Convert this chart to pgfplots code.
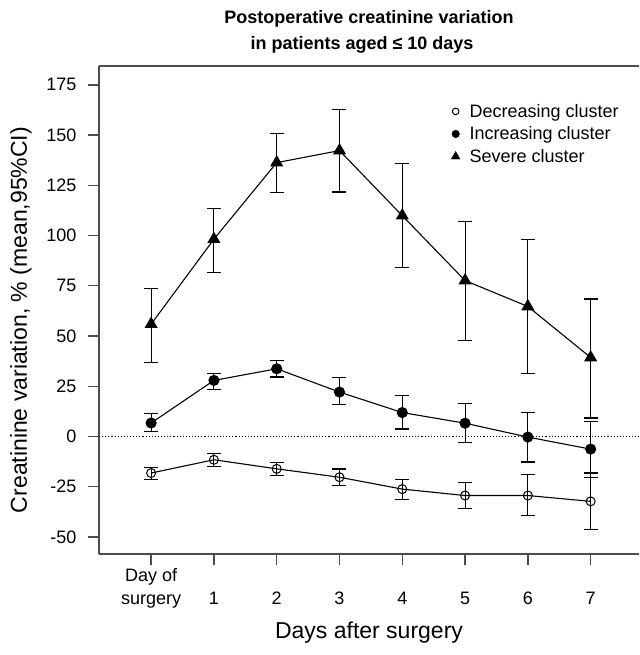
\documentclass[border=0pt]{standalone}
\usepackage{pgfplots}
\pgfplotsset{compat=1.18}
\usepackage{pgfplotstable}
\usepackage{fontspec}
\setmainfont{Liberation Sans}
\setsansfont{Liberation Sans}

\pgfplotstableread{
x y lo hi
0 55.9 36.8 73.6
1 98.2 81.6 113.6
2 136.3 121.4 150.6
3 142.3 121.7 162.8
4 109.9 84.3 135.8
5 77.6 47.8 106.8
6 64.7 31.2 97.9
7 39.3 9.2 68.4
}\severe

\pgfplotstableread{
x y lo hi
0 6.7 2.5 11.3
1 27.9 23.6 31.2
2 33.7 29.6 37.8
3 22.1 15.8 29.4
4 11.9 3.7 20.4
5 6.6 -3.0 16.3
6 -0.3 -12.7 11.9
7 -6.3 -20.2 7.5
}\increasing

\pgfplotstableread{
x y lo hi
0 -18.2 -21.5 -15.4
1 -11.6 -14.9 -8.5
2 -16.1 -19.6 -12.8
3 -20.3 -24.3 -16.2
4 -26.2 -31.5 -21.5
5 -29.4 -35.8 -22.7
6 -29.4 -39.5 -19.1
7 -32.3 -46.1 -18.2
}\decreasing

\begin{document}
\begin{tikzpicture}
\path[use as bounding box] (0pt,0pt) rectangle (639pt,655pt);
\begin{axis}[
  at={(99pt,101pt)}, anchor=south west,
  scale only axis, width=540pt, height=488pt,
  xmin=-0.83, xmax=7.77, ymin=-58.5, ymax=184.4,
  axis x line*=bottom, axis y line*=left,
  axis line style={black!70, line width=1.3pt},
  tick align=outside, major tick length=11pt,
  tick style={black!70, line width=1.3pt},
  xtick={0,1,2,3,4,5,6,7},
  xticklabels={{Day of\\surgery},{\phantom{Day of}\\1},{\phantom{Day of}\\2},{\phantom{Day of}\\3},{\phantom{Day of}\\4},{\phantom{Day of}\\5},{\phantom{Day of}\\6},{\phantom{Day of}\\7}},
  xticklabel style={align=center, font=\fontsize{18}{23}\selectfont},
  ytick={-50,-25,0,25,50,75,100,125,150,175},
  yticklabels={-50,-25,0,25,50,75,100,125,150,175},
  yticklabel style={font=\fontsize{18}{21}\selectfont, xshift=-8pt},
  clip=false,
  legend style={draw=none, fill=none, at={(axis cs:4.72,167.5)}, anchor=north west,
    font=\fontsize{18}{21}\selectfont, row sep=4pt},
  legend cell align=left,
  legend image code/.code={\draw[#1] plot coordinates {(0pt,0pt)}; \path[draw=none] (-5pt,0pt) -- (12pt,0pt);},
  error bars/error bar style={line width=1.1pt, black},
  error bars/error mark options={rotate=90, black, mark size=7pt, line width=1.1pt},
]
\addlegendimage{only marks, mark=o, mark size=3.3pt, line width=1pt}
\addlegendentry{Decreasing cluster}
\addlegendimage{only marks, mark=*, mark size=3.8pt}
\addlegendentry{Increasing cluster}
\addlegendimage{only marks, mark=triangle*, mark size=5pt}
\addlegendentry{Severe cluster}

\addplot[black, dotted, line width=1.1pt, forget plot] coordinates {(-0.83,0) (7.77,0)};
\draw[black!70, line width=1.3pt] (rel axis cs:0,1) -- (rel axis cs:1,1);

\addplot[black, line width=1.1pt, mark=triangle*, mark size=6.5pt, forget plot,
  error bars/.cd, y dir=both, y explicit]
  table[x=x, y=y, y error plus expr=\thisrow{hi}-\thisrow{y}, y error minus expr=\thisrow{y}-\thisrow{lo}] {\severe};
\addplot[black, line width=1.1pt, mark=*, mark size=5pt, forget plot,
  error bars/.cd, y dir=both, y explicit]
  table[x=x, y=y, y error plus expr=\thisrow{hi}-\thisrow{y}, y error minus expr=\thisrow{y}-\thisrow{lo}] {\increasing};
\addplot[black, line width=1.1pt, mark=o, mark size=4.5pt, mark options={line width=1pt}, forget plot,
  error bars/.cd, y dir=both, y explicit]
  table[x=x, y=y, y error plus expr=\thisrow{hi}-\thisrow{y}, y error minus expr=\thisrow{y}-\thisrow{lo}] {\decreasing};
\end{axis}
\node[font=\bfseries\fontsize{18}{21}\selectfont] at (369pt,636pt) {Postoperative creatinine variation};
\node[font=\bfseries\fontsize{18}{21}\selectfont] at (362pt,610pt) {in patients aged ≤ 10 days};
\node[rotate=90, font=\fontsize{23}{27}\selectfont] at (21pt,335pt) {Creatinine variation, \% (mean,95\%CI)};
\node[font=\fontsize{23}{27}\selectfont] at (369pt,22pt) {Days after surgery};
\end{tikzpicture}
\end{document}
